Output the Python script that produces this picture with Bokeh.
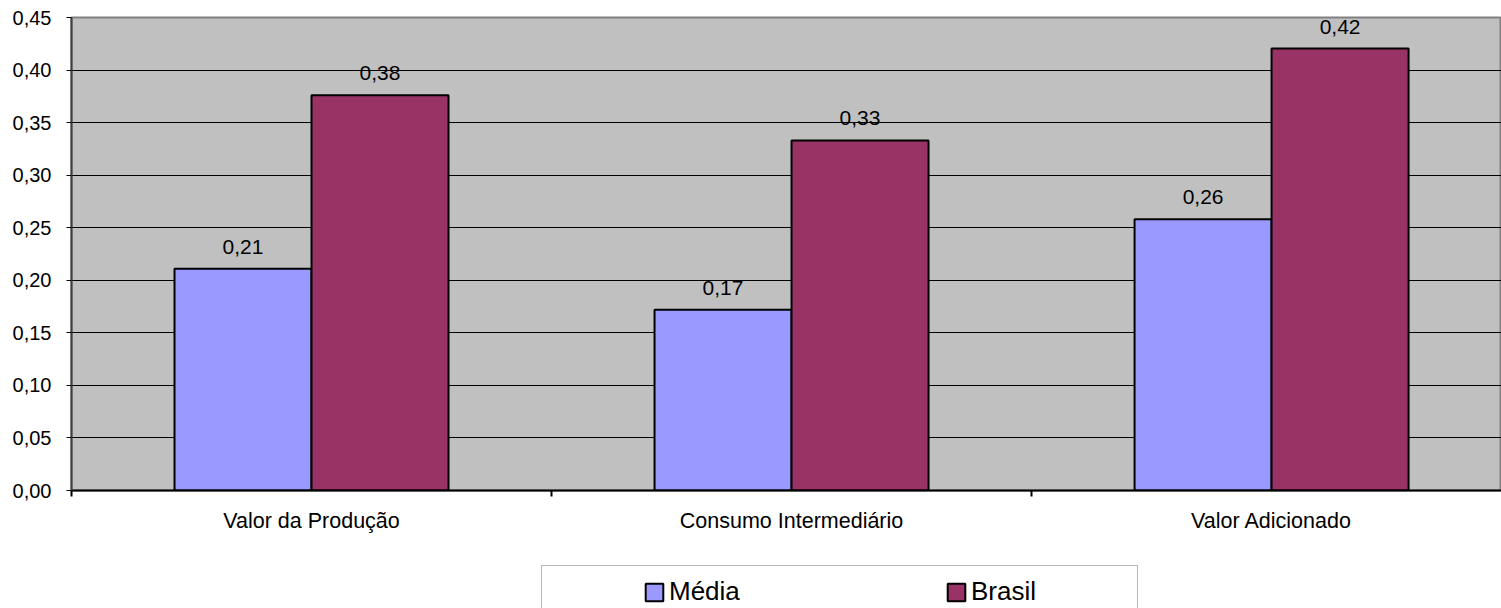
from bokeh.plotting import figure
from bokeh.layouts import column
from bokeh.models import (ColumnDataSource, Range1d, FixedTicker, LabelSet, Legend, LegendItem)
from bokeh.core.properties import value
from bokeh.embed import file_html
from bokeh.resources import INLINE

categories = ["Valor da Produção", "Consumo Intermediário", "Valor Adicionado"]
series_names = ["Média", "Brasil"]
media = [0.211, 0.172, 0.258]
brasil = [0.376, 0.333, 0.4205]
media_labels = ["0,21", "0,17", "0,26"]
brasil_labels = ["0,38", "0,33", "0,42"]
y_ticks = [0.00, 0.05, 0.10, 0.15, 0.20, 0.25, 0.30, 0.35, 0.40, 0.45]
y_tick_labels = ["0,00", "0,05", "0,10", "0,15", "0,20", "0,25", "0,30", "0,35", "0,40", "0,45"]

FONT = "Liberation Sans"
BAR_W = 0.2854
COL_M = "#9999FF"
COL_B = "#993366"

centers = [i + 0.5 for i in range(len(categories))]
src_m = ColumnDataSource(dict(x=[c - BAR_W / 2 for c in centers], top=media, lab=media_labels))
src_b = ColumnDataSource(dict(x=[c + BAR_W / 2 for c in centers], top=brasil, lab=brasil_labels))

p = figure(width=1501, height=555, output_backend="svg", toolbar_location=None,
           x_range=Range1d(0, 2.979), y_range=Range1d(0, 0.45),
           min_border_left=71, min_border_right=0, min_border_top=17, min_border_bottom=65)
p.background_fill_color = "#C0C0C0"
p.border_fill_color = "white"
p.outline_line_color = "#808080"
p.outline_line_width = 2

p.vbar(x="x", top="top", width=BAR_W, bottom=0, source=src_m,
       fill_color=COL_M, line_color="black", line_width=2)
p.vbar(x="x", top="top", width=BAR_W, bottom=0, source=src_b,
       fill_color=COL_B, line_color="black", line_width=2)

for s in (src_m, src_b):
    p.add_layout(LabelSet(x="x", y="top", text="lab", source=s, y_offset=15,
                          text_align="center", text_baseline="alphabetic",
                          text_font=value(FONT), text_font_size="21px", text_color="black"))

# y axis
p.yaxis.ticker = FixedTicker(ticks=y_ticks)
p.yaxis.major_label_overrides = {t: l for t, l in zip(y_ticks, y_tick_labels)}
p.yaxis.minor_tick_line_color = None
p.yaxis.major_tick_in = 0
p.yaxis.major_tick_out = 5
p.yaxis.major_tick_line_color = "black"
p.yaxis.axis_line_color = "#404040"
p.yaxis.axis_line_width = 2
p.yaxis.major_label_standoff = 15
p.yaxis.major_label_text_font = FONT
p.yaxis.major_label_text_font_size = "20px"
p.yaxis.major_label_text_color = "black"

# x axis
p.xaxis.ticker = FixedTicker(ticks=centers, minor_ticks=[0, 1, 2, 3])
p.xaxis.major_label_overrides = {c: n for c, n in zip(centers, categories)}
p.xaxis.major_tick_line_color = None
p.xaxis.major_tick_out = 0
p.xaxis.major_tick_in = 0
p.xaxis.minor_tick_in = 0
p.xaxis.minor_tick_out = 6
p.xaxis.minor_tick_line_color = "black"
p.xaxis.minor_tick_line_width = 2
p.xaxis.axis_line_color = "black"
p.xaxis.axis_line_width = 2
p.xaxis.major_label_standoff = 12
p.xaxis.major_label_text_font = FONT
p.xaxis.major_label_text_font_size = "21.5px"
p.xaxis.major_label_text_color = "black"

p.xgrid.grid_line_color = None
p.ygrid.ticker = FixedTicker(ticks=y_ticks)
p.ygrid.grid_line_color = "black"
p.ygrid.grid_line_width = 1

# legend strip below the chart (hidden copies of the series, only for the legend keys)
p2 = figure(width=1501, height=53, output_backend="svg", toolbar_location=None,
            x_range=Range1d(0, 2.979), y_range=Range1d(0, 0.45),
            x_axis_type=None, y_axis_type=None,
            min_border_left=71, min_border_right=0, min_border_top=0, min_border_bottom=0)
p2.outline_line_color = None
p2.background_fill_color = "white"
p2.border_fill_color = "white"
p2.xgrid.visible = False
p2.ygrid.visible = False
lm = p2.vbar(x="x", top="top", width=BAR_W, bottom=0, source=src_m,
             fill_color=COL_M, line_color="black", line_width=2, visible=False)
lb = p2.vbar(x="x", top="top", width=BAR_W, bottom=0, source=src_b,
             fill_color=COL_B, line_color="black", line_width=2, visible=False)

legend = Legend(items=[LegendItem(label=series_names[0], renderers=[lm]),
                       LegendItem(label=series_names[1], renderers=[lb])],
                orientation="horizontal", location=(470, -10), margin=0,
                title=" ", title_location="left", title_text_alpha=0,
                title_text_font_size="10px", title_standoff=80,
                padding=10, spacing=120, label_width=156, label_standoff=4,
                glyph_width=22, glyph_height=22,
                label_text_font=FONT, label_text_font_size="26px",
                label_text_color="black",
                inactive_fill_alpha=0,
                border_line_color="#707070", border_line_width=1.5,
                background_fill_color="white", background_fill_alpha=1)
p2.add_layout(legend, "center")

layout = column(p, p2, spacing=0)
open("out.html", "w").write(file_html(layout, INLINE))
